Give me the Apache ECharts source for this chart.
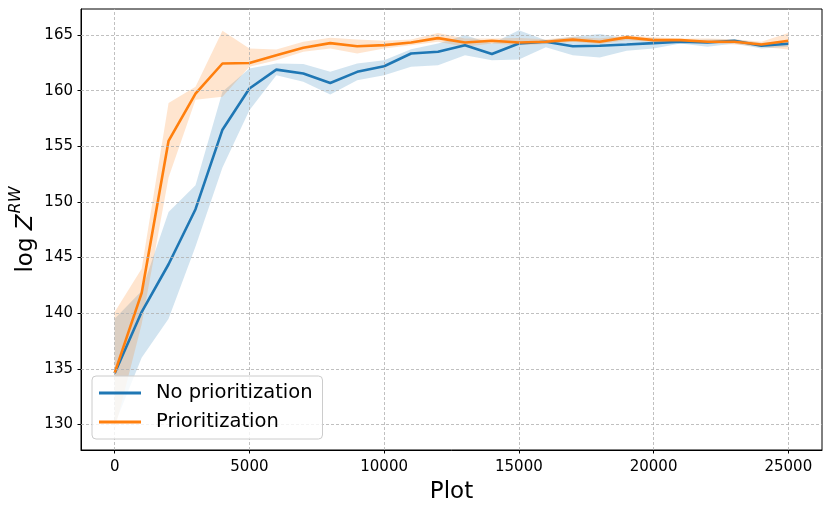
<!DOCTYPE html>
<html>
<head>
<meta charset="utf-8">
<script src="https://cdn.jsdelivr.net/npm/echarts@6/dist/echarts.min.js"></script>
<style>
html,body{margin:0;padding:0;background:#fff;}
#chart{width:831px;height:513px;}
</style>
</head>
<body>
<div id="chart"></div>
<script>
const steps = [0,1000,2000,3000,4000,5000,6000,7000,8000,9000,10000,11000,12000,13000,14000,15000,16000,17000,18000,19000,20000,21000,22000,23000,24000,25000];

const noPrioMean = [134.6,140.1,144.4,149.35,156.5,160.2,161.9,161.55,160.7,161.7,162.2,163.35,163.5,164.1,163.3,164.25,164.4,164.0,164.05,164.16,164.28,164.4,164.34,164.5,164.05,164.22];
const noPrioHigh = [139.5,142.0,149.1,151.5,159.9,162.0,162.45,162.4,161.7,162.45,162.75,163.74,164.25,165.0,164.25,165.45,164.55,164.85,165.1,164.7,164.7,164.55,164.6,164.64,164.3,164.5];
const noPrioLow  = [130.0,136.0,139.5,146.0,153.1,158.25,161.4,160.8,159.67,160.95,161.4,162.15,162.3,163.2,162.75,162.8,163.9,163.2,163.0,163.6,163.8,164.25,163.95,164.25,163.8,163.95];

const prioMean = [134.63,141.8,155.5,159.75,162.45,162.5,163.2,163.86,164.28,164.0,164.1,164.34,164.73,164.34,164.5,164.34,164.4,164.6,164.4,164.8,164.55,164.55,164.4,164.4,164.16,164.5];
const prioHigh = [140.1,144.0,158.9,160.35,165.4,163.8,163.7,164.4,164.76,164.6,164.5,164.6,165.2,164.7,164.7,164.75,164.64,164.85,164.7,165.0,164.8,164.7,164.7,164.64,164.4,165.2];
const prioLow  = [129.5,139.0,152.2,159.2,159.45,162.15,162.75,163.5,163.8,163.35,163.8,164.1,164.4,163.95,164.25,164.1,164.2,164.4,164.2,164.55,164.4,164.4,164.25,164.16,163.95,163.7];

const xTicks = [0,5000,10000,15000,20000,25000];
const yTicks = [130,135,140,145,150,155,160,165];

const seriesNames = ['No prioritization','Prioritization'];
const colors = ['#1f77b4','#ff7f0e'];

const FONT = 'DejaVu Sans';

function pairs(xs, ys){ return xs.map((x,i)=>[x, ys[i]]); }

function band(id, low, high, color){
  const pts = steps.map((x,i)=>[x, low[i], high[i]]);
  return {
    type:'custom', name:id, silent:true, z:2,
    data: pts,
    encode:{x:0, y:[1,2]},
    renderItem: function(params, api){
      if (params.dataIndex !== 0) return null;
      const upper = pts.map(p=>api.coord([p[0], p[2]]));
      const lower = pts.map(p=>api.coord([p[0], p[1]])).reverse();
      return {
        type:'polygon',
        shape:{points: upper.concat(lower)},
        style:{fill:color, opacity:0.2, stroke:null}
      };
    },
    clip:true
  };
}

const gridLineStyle = {color:'#b0b0b0', type:[3,2], width:0.8};

const option = {
  animation:false,
  backgroundColor:'#fff',
  grid:{left:81, right:9, top:9, bottom:63, show:true, borderColor:'#000', borderWidth:1,
        backgroundColor:'transparent', containLabel:false, outerBoundsMode:'none'},
  xAxis:{
    type:'value', min:-1250, max:26250,
    name:'Plot', nameLocation:'middle', nameGap:31,
    nameTextStyle:{fontFamily:FONT, fontSize:23, color:'#000'},
    axisLine:{show:true, onZero:false, lineStyle:{color:'#000', width:1}},
    axisTick:{show:true, customValues:xTicks, length:3.5, lineStyle:{color:'#000', width:1}},
    axisLabel:{show:true, customValues:xTicks, margin:10, fontFamily:FONT, fontSize:15, color:'#000',
      formatter:function(v){ return String(v); }},
    splitLine:{show:false}
  },
  yAxis:{
    type:'value', min:127.7, max:167.35,
    name:'{a|log }{z|Z}{s|RW}', nameLocation:'middle', nameGap:43, nameRotate:90,
    nameMoveOverlap:false,
    nameTextStyle:{
      fontFamily:FONT, color:'#000',
      rich:{
        a:{fontFamily:FONT, fontSize:23, color:'#000', lineHeight:30, verticalAlign:'bottom'},
        z:{fontFamily:FONT, fontSize:23, fontStyle:'italic', color:'#000', lineHeight:30, verticalAlign:'bottom'},
        s:{fontFamily:FONT, fontSize:16, fontStyle:'italic', color:'#000', lineHeight:30, verticalAlign:'top', padding:[0,0,0,1]}
      }
    },
    axisLine:{show:true, onZero:false, lineStyle:{color:'#000', width:1}},
    axisTick:{show:true, customValues:yTicks, length:3.5, lineStyle:{color:'#000', width:1}},
    axisLabel:{show:true, customValues:yTicks, margin:8, fontFamily:FONT, fontSize:15, color:'#000',
      formatter:function(v){ return String(v); }},
    splitLine:{show:false}
  },
  legend:{
    show:true, orient:'vertical', left:92, top:376,
    data:seriesNames.map(n=>({name:n, icon:'rect'})),
    itemWidth:42, itemHeight:2.8, itemGap:9,
    padding:[7,10,7,7],
    backgroundColor:'rgba(255,255,255,0.8)', borderColor:'#cccccc', borderWidth:1, borderRadius:4,
    textStyle:{fontFamily:FONT, fontSize:19.5, color:'#000', lineHeight:20, padding:[0,0,0,10]},
    z:10
  },
  series:[
    {type:'line', name:'gridlines', data:[[0,130]], symbol:'none', lineStyle:{opacity:0}, silent:true, z:1,
     markLine:{silent:true, symbol:'none', label:{show:false}, lineStyle:gridLineStyle,
       data: xTicks.map(v=>({xAxis:v})).concat(yTicks.map(v=>({yAxis:v})))}},
    band('np', noPrioLow, noPrioHigh, colors[0]),
    band('p', prioLow, prioHigh, colors[1]),
    {type:'line', name:seriesNames[0], data:pairs(steps, noPrioMean), symbol:'none',
     lineStyle:{color:colors[0], width:2.6}, itemStyle:{color:colors[0]}, z:3},
    {type:'line', name:seriesNames[1], data:pairs(steps, prioMean), symbol:'none',
     lineStyle:{color:colors[1], width:2.6}, itemStyle:{color:colors[1]}, z:4}
  ]
};

const chart = echarts.init(document.getElementById('chart'), null, {renderer:'canvas'});
chart.setOption(option);
</script>
</body>
</html>
